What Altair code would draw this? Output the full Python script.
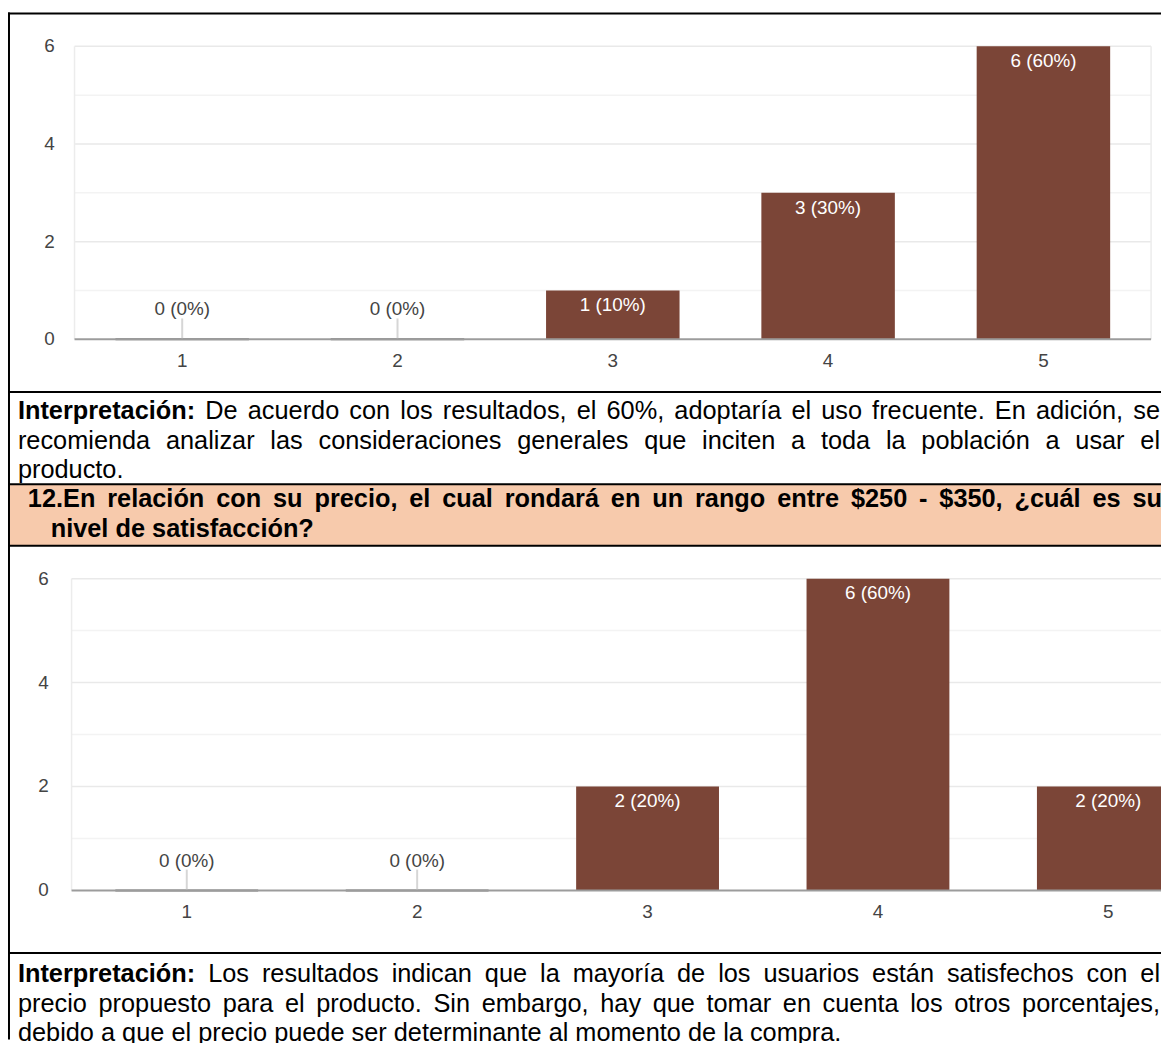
import altair as alt
import pandas as pd

# ---------------- data ----------------
categories = ["1", "2", "3", "4", "5"]
q11_counts = [0, 0, 1, 3, 6]
q11_labels = ["0 (0%)", "0 (0%)", "1 (10%)", "3 (30%)", "6 (60%)"]
q12_counts = [0, 0, 2, 6, 2]
q12_labels = ["0 (0%)", "0 (0%)", "2 (20%)", "6 (60%)", "2 (20%)"]
y_tick_values = [0, 2, 4, 6]
grid_values = [1, 2, 3, 4, 5, 6]

block1_lines = [
    [("Interpretación:", True), ("De acuerdo con los resultados, el 60%, adoptaría el uso frecuente. En adición, se", False)],
    [("recomienda analizar las consideraciones generales que inciten a toda la población a usar el", False)],
    [("producto.", False)],
]
header_lines = [
    [("12.En relación con su precio, el cual rondará en un rango entre $250 - $350, ¿cuál es su", True)],
    [("nivel de satisfacción?", True)],
]
block2_lines = [
    [("Interpretación:", True), ("Los resultados indican que la mayoría de los usuarios están satisfechos con el", False)],
    [("precio propuesto para el producto. Sin embargo, hay que tomar en cuenta los otros porcentajes,", False)],
    [("debido a que el precio puede ser determinante al momento de la compra.", False)],
]

# ---------------- style / layout ----------------
W, H = 1161, 1035
FONT = "Liberation Sans"
BAR = "#7b4537"
LABEL_GRAY = "#444444"
FS = 25.5
CFS = 19

# Arial / Liberation Sans advance widths (1/1000 em)
REG = {' ': 278, '!': 278, '$': 556, '%': 889, '(': 333, ')': 333, ',': 278, '-': 333, '.': 278,
       ':': 278, '?': 556, '¿': 611,
       'A': 667, 'B': 667, 'C': 722, 'D': 722, 'E': 667, 'F': 611, 'G': 778, 'H': 722, 'I': 278,
       'J': 500, 'K': 667, 'L': 556, 'M': 833, 'N': 722, 'O': 778, 'P': 667, 'Q': 778, 'R': 722,
       'S': 667, 'T': 611, 'U': 722, 'V': 667, 'W': 944, 'X': 667, 'Y': 667, 'Z': 611,
       'a': 556, 'b': 556, 'c': 500, 'd': 556, 'e': 556, 'f': 278, 'g': 556, 'h': 556, 'i': 222,
       'j': 222, 'k': 500, 'l': 222, 'm': 833, 'n': 556, 'o': 556, 'p': 556, 'q': 556, 'r': 333,
       's': 500, 't': 278, 'u': 556, 'v': 500, 'w': 722, 'x': 500, 'y': 500, 'z': 500,
       'á': 556, 'é': 556, 'í': 278, 'ó': 556, 'ú': 556, 'ñ': 556}
BOLD = {' ': 278, '!': 333, '$': 556, '%': 889, '(': 333, ')': 333, ',': 278, '-': 333, '.': 278,
        ':': 333, '?': 611, '¿': 611,
        'A': 722, 'B': 722, 'C': 722, 'D': 722, 'E': 667, 'F': 611, 'G': 778, 'H': 722, 'I': 278,
        'J': 556, 'K': 722, 'L': 611, 'M': 833, 'N': 722, 'O': 778, 'P': 667, 'Q': 778, 'R': 722,
        'S': 667, 'T': 611, 'U': 722, 'V': 667, 'W': 944, 'X': 667, 'Y': 667, 'Z': 611,
        'a': 556, 'b': 611, 'c': 556, 'd': 611, 'e': 556, 'f': 333, 'g': 611, 'h': 611, 'i': 278,
        'j': 278, 'k': 556, 'l': 278, 'm': 889, 'n': 611, 'o': 611, 'p': 611, 'q': 611, 'r': 389,
        's': 556, 't': 333, 'u': 611, 'v': 556, 'w': 778, 'x': 556, 'y': 556, 'z': 500,
        'á': 556, 'é': 556, 'í': 278, 'ó': 611, 'ú': 611, 'ñ': 611}
for d in (REG, BOLD):
    for ch in "0123456789":
        d[ch] = 556


def text_width(s, bold, fs):
    t = BOLD if bold else REG
    return sum(t.get(ch, 556) for ch in s) * fs / 1000.0


def layout_line(segments, x0, x1, y, fs, justify):
    words = []
    for txt, b in segments:
        for w in txt.split(" "):
            if w:
                words.append((w, b))
    widths = [text_width(w, b, fs) for w, b in words]
    if justify and len(words) > 1:
        gap = (x1 - x0 - sum(widths)) / (len(words) - 1)
    else:
        gap = REG[' '] * fs / 1000.0
    rows, x = [], x0
    for (w, b), wd in zip(words, widths):
        rows.append({"x": x, "y": y, "t": w, "bold": b})
        x += wd + gap
    return rows


text_rows = []
for i, segs in enumerate(block1_lines):
    text_rows += layout_line(segs, 10, 1160, 402 + 30 * i, FS, i < 2)
text_rows += layout_line(header_lines[0], 20, 1162, 491, FS, True)
text_rows += layout_line(header_lines[1], 43, 1162, 521, FS, False)
for i, segs in enumerate(block2_lines):
    text_rows += layout_line(segs, 10, 1160, 969 + 30 * i, FS, i < 2)
text_df = pd.DataFrame(text_rows)

# ---------------- decorations ----------------
one = pd.DataFrame({"a": [0]})
band = alt.Chart(one).mark_rect(color="#f7caac").encode(
    x=alt.value(0), x2=alt.value(W), y=alt.value(476), y2=alt.value(538))

hlines = alt.Chart(pd.DataFrame({"y": [2, 383, 476, 538, 948]})).mark_rule(
    color="black", strokeWidth=2).encode(
    y=alt.Y("y:Q", scale=None), x=alt.value(0), x2=alt.value(W))
vline = alt.Chart(one).mark_rule(color="black", strokeWidth=2).encode(
    x=alt.value(1), y=alt.value(1), y2=alt.value(H))

txt_reg = alt.Chart(text_df[~text_df["bold"]]).mark_text(
    align="left", baseline="middle", font=FONT, fontSize=FS, color="black").encode(
    x=alt.X("x:Q", scale=None), y=alt.Y("y:Q", scale=None), text="t:N")
txt_bold = alt.Chart(text_df[text_df["bold"]]).mark_text(
    align="left", baseline="middle", font=FONT, fontSize=FS, fontWeight="bold", color="black").encode(
    x=alt.X("x:Q", scale=None), y=alt.Y("y:Q", scale=None), text="t:N")


# ---------------- bar panels ----------------
def bar_panel(counts, labels, x_range, y_range, ylab_x):
    df = pd.DataFrame({"cat": categories, "n": counts, "lab": labels})
    xs = alt.Scale(domain=categories, range=x_range, paddingInner=0.38, paddingOuter=0.19)
    ys = alt.Scale(domain=[0, 6], range=y_range, nice=False, zero=True)
    X = alt.X("cat:N", scale=xs, axis=None, sort=categories)
    Y = alt.Y("n:Q", scale=ys, axis=None)
    base = alt.Chart(df)

    gdf = pd.DataFrame({"v": grid_values, "major": [v % 2 == 0 for v in grid_values]})
    grid = alt.Chart(gdf).mark_rule(strokeWidth=1.5).encode(
        y=alt.Y("v:Q", scale=ys, axis=None),
        x=alt.value(x_range[0]), x2=alt.value(x_range[1]),
        color=alt.condition("datum.major", alt.value("#e9e9e9"), alt.value("#f3f3f3")))
    edge_l = alt.Chart(one).mark_rule(color="#ececec", strokeWidth=1.5).encode(
        x=alt.value(x_range[0]), y=alt.value(y_range[1]), y2=alt.value(y_range[0]))
    edge_r = alt.Chart(one).mark_rule(color="#ececec", strokeWidth=1.5).encode(
        x=alt.value(x_range[1]), y=alt.value(y_range[1]), y2=alt.value(y_range[0]))
    baseline = alt.Chart(pd.DataFrame({"v": [0]})).mark_rule(color="#9c9c9c", strokeWidth=2).encode(
        y=alt.Y("v:Q", scale=ys, axis=None), x=alt.value(x_range[0]), x2=alt.value(x_range[1]))

    bars = base.transform_filter("datum.n > 0").mark_bar(color=BAR).encode(x=X, y=Y)
    zero_bars = base.transform_filter("datum.n == 0").mark_bar(
        fill=BAR, stroke="#727272", strokeWidth=2).encode(x=X, y=Y)
    in_labels = base.transform_filter("datum.n > 0").mark_text(
        color="white", dy=15, baseline="middle", font=FONT, fontSize=CFS).encode(
        x=X, y=Y, text="lab:N")
    zero_labels = base.transform_filter("datum.n == 0").mark_text(
        color=LABEL_GRAY, dy=-30, baseline="middle", font=FONT, fontSize=CFS).encode(
        x=X, y=Y, text="lab:N")
    stems = base.transform_filter("datum.n == 0").mark_tick(
        orient="vertical", size=20, thickness=2, color="#c4c4c4", yOffset=-11).encode(x=X, y=Y)
    xlabels = base.transform_calculate(z="0").mark_text(
        color=LABEL_GRAY, dy=22, baseline="middle", font=FONT, fontSize=CFS).encode(
        x=X, y=alt.Y("z:Q", scale=ys, axis=None), text="cat:N")
    ylabels = alt.Chart(pd.DataFrame({"v": y_tick_values})).mark_text(
        color=LABEL_GRAY, align="right", baseline="middle", font=FONT, fontSize=CFS).encode(
        y=alt.Y("v:Q", scale=ys, axis=None), x=alt.value(ylab_x), text="v:Q")
    return alt.layer(grid, edge_l, edge_r, bars, zero_bars, baseline, stems,
                     in_labels, zero_labels, xlabels, ylabels)


panel1 = bar_panel(q11_counts, q11_labels, [67, 1151], [330, 35], 47)
panel2 = bar_panel(q12_counts, q12_labels, [64, 1224], [885, 571], 41)

chart = alt.layer(
    band, panel1, panel2, hlines, vline, txt_reg, txt_bold
).resolve_scale(
    x="independent", y="independent"
).properties(
    width=W, height=H, padding=0,
    autosize=alt.AutoSizeParams(type="none"),
).configure_view(strokeWidth=0)

chart.save("out.html", embed_options={"renderer": "svg", "actions": False})
